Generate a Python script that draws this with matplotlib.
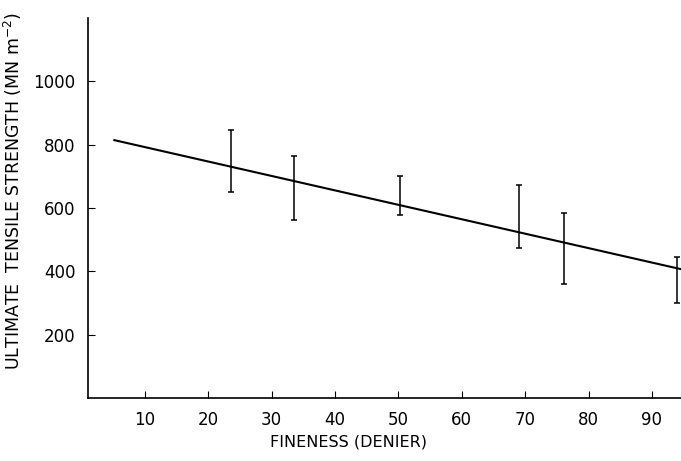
import matplotlib
matplotlib.use('Agg')
import matplotlib.pyplot as plt
import numpy as np

# data
fineness = [23.6, 33.5, 50.2, 69.0, 76.1, 93.9]
strength_mean = [731, 684, 608, 522, 490, 408]
strength_low = [650, 562, 579, 473, 361, 300]
strength_high = [847, 763, 702, 673, 584, 444]

fit_x = [5, 95]
fit_y = [815, 405]

x_ticks = [10, 20, 30, 40, 50, 60, 70, 80, 90]
y_ticks = [200, 400, 600, 800, 1000]

fig = plt.figure(figsize=(6.81, 4.61), dpi=100)
ax = fig.add_axes([88 / 681, 1 - 398 / 461, 1 - 88 / 681, (398 - 18) / 461])

ax.plot(fit_x, fit_y, color='black', lw=1.5, solid_capstyle='butt')

mean = np.array(strength_mean)
yerr = [mean - np.array(strength_low), np.array(strength_high) - mean]
ax.errorbar(fineness, mean, yerr=yerr, fmt='none', ecolor='black',
            elinewidth=1.1, capsize=2.5, capthick=1.1)

ax.set_xlim(1.0, 94.6)
ax.set_ylim(0, 1200)
ax.set_xticks(x_ticks)
ax.set_yticks(y_ticks)

for s in ['top', 'right']:
    ax.spines[s].set_visible(False)
for s in ['left', 'bottom']:
    ax.spines[s].set_linewidth(1.2)

ax.tick_params(axis='both', direction='in', length=5, width=0.8,
               labelsize=12, pad=9, colors='black')

ax.set_xlabel('FINENESS (DENIER)', fontsize=11.5)
ax.xaxis.set_label_coords(0.44, -0.095)
ax.set_ylabel(r'ULTIMATE  TENSILE STRENGTH (MN m$^{-2}$)', fontsize=12.5)
ax.yaxis.set_label_coords(-0.108, 0.545)

fig.savefig('out.png', dpi=100, facecolor='white')
